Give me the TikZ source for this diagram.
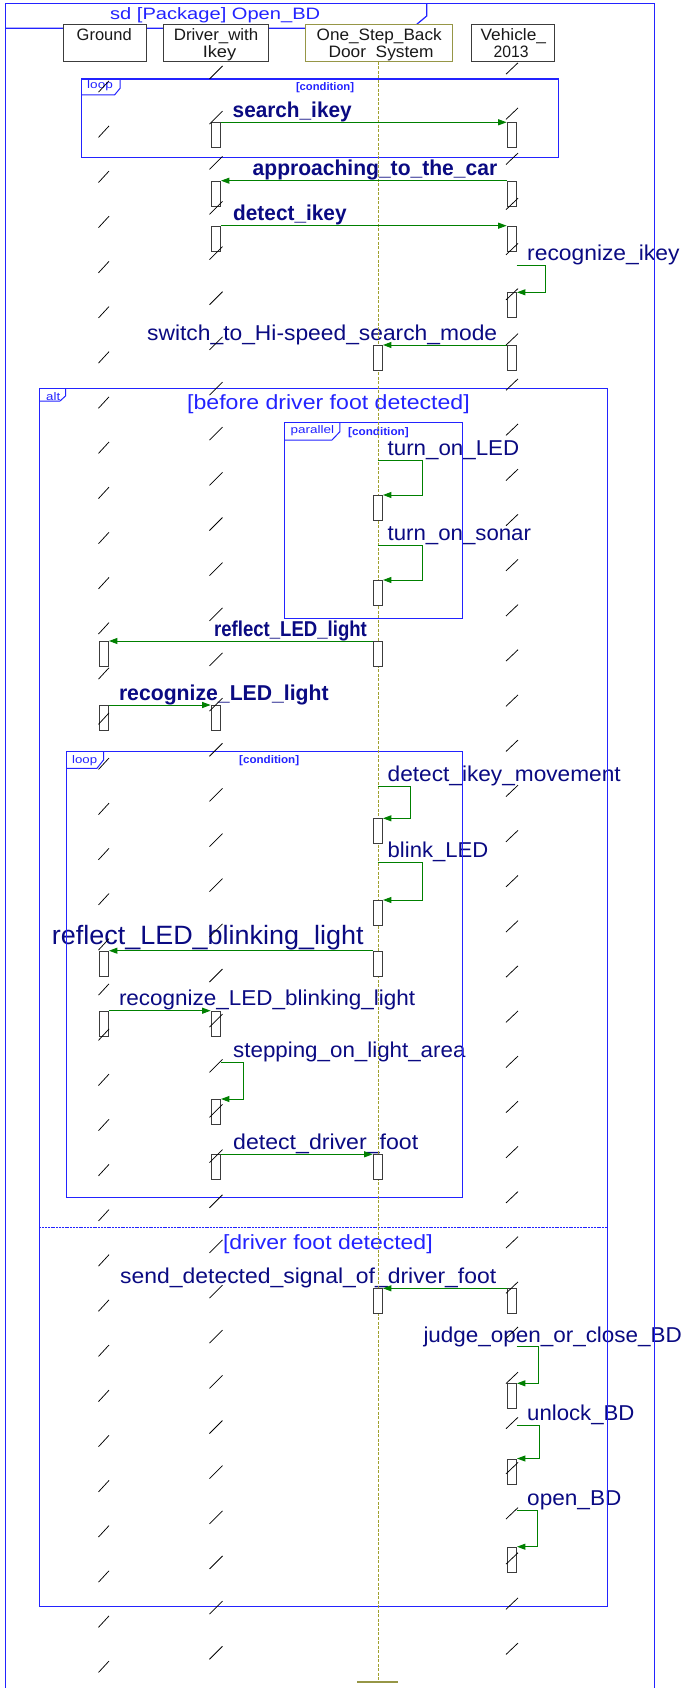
\documentclass[tikz,border=0pt]{standalone}
\usepackage{fontspec}
\setmainfont{Liberation Sans}
\usepackage{graphicx}
\usetikzlibrary{arrows.meta}
\definecolor{lblnavy}{RGB}{10,10,130}
\definecolor{frameblue}{RGB}{35,35,255}
\definecolor{msggreen}{RGB}{0,128,0}
\definecolor{lifeolive}{RGB}{160,160,45}
\definecolor{hdrolive}{RGB}{150,150,70}
\definecolor{boxgray}{RGB}{60,60,60}
\definecolor{hdrtext}{RGB}{25,25,25}
\newlength\fitlblw
\newcommand\fitlbl[3]{\begingroup\fontsize{#1}{#1}\selectfont\setbox0=\hbox{#3}\fitlblw=\wd0\relax\pgfmathsetmacro\fitlblsx{#2/\fitlblw}\scalebox{\fitlblsx}[1]{\box0}\endgroup}
\tikzset{
  lbl/.style={inner sep=0pt, anchor=base west, text=lblnavy},
  grd/.style={inner sep=0pt, anchor=base west, text=frameblue},
  hdrtxt/.style={inner sep=0pt, anchor=base, text=hdrtext},
  frm/.style={draw=frameblue, line width=1.2pt},
  tabline/.style={draw=frameblue, line width=1pt},
  hdrbox/.style={draw=boxgray, fill=white, line width=0.9pt, inner sep=0pt, anchor=north west, minimum height=36.7pt},
  actbox/.style={draw=boxgray, fill=white, line width=0.9pt, minimum width=9.4pt, minimum height=25pt, inner sep=0pt, anchor=north},
  msg/.style={draw=msggreen, line width=1pt, -{Triangle[length=8.5pt,width=6pt]}},
  tick/.style={black, line width=0.75pt},
  life/.style={draw=lifeolive, line width=0.9pt, dash pattern=on 3pt off 1.5pt},
}
\begin{document}
\begin{tikzpicture}[x=1pt,y=-1pt]
\useasboundingbox[fill=white] (0,0) rectangle (685,1688);

% ---------- labels (under the lines) ----------
\node[lbl] (t1) at (232.5,117.5) {\fitlbl{21.5}{119}{\bfseries search\_ikey}};
\node[lbl] (t2) at (252.5,175.5) {\fitlbl{21.5}{244.5}{\bfseries approaching\_to\_the\_car}};
\node[lbl] (t3) at (233,220.5) {\fitlbl{21.5}{113.4}{\bfseries detect\_ikey}};
\node[lbl] (t4) at (527,261) {\fitlbl{21.5}{152.3}{recognize\_ikey}};
\node[lbl] (t5) at (147,340) {\fitlbl{21.5}{350}{switch\_to\_Hi-speed\_search\_mode}};
\node[lbl] (t6) at (387.5,455.5) {\fitlbl{21.5}{131.5}{turn\_on\_LED}};
\node[lbl] (t7) at (387.5,540) {\fitlbl{21.5}{143.3}{turn\_on\_sonar}};
\node[lbl] (t8) at (214,636) {\fitlbl{21.5}{152.7}{\bfseries reflect\_LED\_light}};
\node[lbl] (t9) at (118.8,700) {\fitlbl{21.5}{209.7}{\bfseries recognize\_LED\_light}};
\node[lbl] (t10) at (387.5,781.5) {\fitlbl{21.5}{233}{detect\_ikey\_movement}};
\node[lbl] (t11) at (387.5,857.5) {\fitlbl{21.5}{100.5}{blink\_LED}};
\node[lbl] (t12) at (51.7,944) {\fitlbl{26.5}{311.7}{reflect\_LED\_blinking\_light}};
\node[lbl] (t13) at (118.8,1005.5) {\fitlbl{21.5}{296.2}{recognize\_LED\_blinking\_light}};
\node[lbl] (t14) at (233,1057) {\fitlbl{21.5}{232.3}{stepping\_on\_light\_area}};
\node[lbl] (t15) at (233,1149) {\fitlbl{21.5}{185}{detect\_driver\_foot}};
\node[lbl] (t16) at (120,1283) {\fitlbl{21.5}{376}{send\_detected\_signal\_of\_driver\_foot}};
\node[lbl] (t17) at (423.3,1342) {\fitlbl{21.5}{258.4}{judge\_open\_or\_close\_BD}};
\node[lbl] (t18) at (527,1420) {\fitlbl{21.5}{107.3}{unlock\_BD}};
\node[lbl] (t19) at (527,1505.5) {\fitlbl{21.5}{94.2}{open\_BD}};

% guards and frame texts
\node[grd] (title) at (110,19.5) {\fitlbl{16.5}{210}{sd [Package] Open\_BD}};
\node[grd] (g1) at (187,409) {\fitlbl{20.5}{282.6}{[before driver foot detected]}};
\node[grd] (g2) at (222.8,1249) {\fitlbl{20.5}{209.7}{[driver foot detected]}};
\node[grd] (lp1) at (87,89) {\fitlbl{11}{25.7}{loop}};
\node[grd] (cd1) at (295.8,90.5) {\fitlbl{11}{58}{\bfseries [condition]}};
\node[grd] (alt) at (46,400) {\fitlbl{11}{14}{alt}};
\node[grd] (par) at (290.5,433.5) {\fitlbl{11}{43.5}{parallel}};
\node[grd] (cd2) at (348,435) {\fitlbl{11}{60.5}{\bfseries [condition]}};
\node[grd] (lp2) at (72,763) {\fitlbl{11}{25}{loop}};
\node[grd] (cd3) at (239,763.5) {\fitlbl{11}{60}{\bfseries [condition]}};

% ---------- frames ----------
\draw[frm] (5.2,1688) -- (5.2,3.3) -- (654.5,3.3) -- (654.5,1688);
\draw[frm] (5.2,28.3) -- (412,28.3) -- (426.7,16) -- (426.7,3.3);
% top loop
\draw[frm] (81.7,79) rectangle (558.3,157.3);
\draw[tabline] (81.7,95) -- (114.5,95) -- (120.1,88.3) -- (120.1,79);
% alt
\draw[frm] (39.3,388.3) rectangle (607.2,1606.7);
\draw[tabline] (39.3,401) -- (60,401) -- (65.5,396) -- (65.5,388.3);
\draw[frm, line width=1.6pt, dash pattern=on 2pt off 0.8pt] (39.3,1227.3) -- (607.2,1227.3);
% parallel
\draw[frm] (284.8,422.7) rectangle (462.2,618.3);
\draw[tabline] (284.8,440) -- (332,440) -- (339.9,431.7) -- (339.9,422.7);
% inner loop
\draw[frm] (66.4,751.7) rectangle (462.2,1197.7);
\draw[tabline] (66.4,768.3) -- (97,768.3) -- (103.5,760) -- (103.5,751.7);

% ---------- header boxes ----------
\node[hdrbox, minimum width=83.3pt] (hG) at (62.7,24.3) {};
\node[hdrbox, minimum width=105pt] (hD) at (163.3,24.3) {};
\node[hdrbox, minimum width=146.7pt, draw=hdrolive] (hS) at (305,24.3) {};
\node[hdrbox, minimum width=83pt] (hV) at (470.5,24.3) {};
\node[hdrtxt] (hGt) at (104.2,40.7) {\fitlbl{16.5}{55}{Ground}};
\node[hdrtxt] (hDt1) at (216.1,40.7) {\fitlbl{16.5}{84.5}{Driver\_with}};
\node[hdrtxt] (hDt2) at (219.5,57.5) {\fitlbl{16.5}{33.5}{Ikey}};
\node[hdrtxt] (hSt1) at (379.2,40.7) {\fitlbl{16.5}{125}{One\_Step\_Back}};
\node[hdrtxt] (hSt2) at (381,57.5) {\fitlbl{16.5}{105}{Door\phantom{\_}System}};
\node[hdrtxt] (hVt1) at (513.3,40.7) {\fitlbl{16.5}{65.4}{Vehicle\_}};
\node[hdrtxt] (hVt2) at (511.2,57.5) {\fitlbl{16.5}{35}{2013}};

% ---------- lifeline of the system ----------
\coordinate (lend) at (377.8,1682.3);
\draw[life] (hS.south) -- (hS.south |- lend);
\draw[draw=hdrolive, line width=1.8pt] ([xshift=-20.5pt]lend) -- ([xshift=20.5pt]lend);

% ---------- activation boxes ----------
% driver
\node[actbox] (d1) at (215.8,122.3) {};
\node[actbox] (d2) at (215.8,180.7) {};
\node[actbox] (d3) at (215.8,225.7) {};
\node[actbox] (d4) at (215.8,705) {};
\node[actbox] (d5) at (215.8,1010.7) {};
\node[actbox] (d6) at (215.8,1099) {};
\node[actbox] (d7) at (215.8,1154.3) {};
% vehicle
\node[actbox] (v1) at (511.8,122.3) {};
\node[actbox] (v2) at (511.8,180.7) {};
\node[actbox] (v3) at (511.8,225.7) {};
\node[actbox] (v4) at (511.8,292.3) {};
\node[actbox] (v5) at (511.8,345) {};
\node[actbox] (v6) at (511.8,1288.3) {};
\node[actbox] (v7) at (511.8,1383.3) {};
\node[actbox] (v8) at (511.8,1458.5) {};
\node[actbox] (v9) at (511.8,1546.7) {};
% system
\node[actbox] (s1) at (377.8,345) {};
\node[actbox] (s2) at (377.8,495) {};
\node[actbox] (s3) at (377.8,580) {};
\node[actbox] (s4) at (377.8,641) {};
\node[actbox] (s5) at (377.8,818.3) {};
\node[actbox] (s6) at (377.8,900) {};
\node[actbox] (s7) at (377.8,950.7) {};
\node[actbox] (s8) at (377.8,1154.3) {};
\node[actbox] (s9) at (377.8,1288.3) {};
% ground
\node[actbox] (g4) at (103.8,641) {};
\node[actbox] (g5) at (103.8,705) {};
\node[actbox] (g7) at (103.8,950.7) {};
\node[actbox] (g8) at (103.8,1010.7) {};

% ---------- messages ----------
\draw[msg] (d1.north east) -- (v1.north west);
\draw[msg] (v2.north west) -- (d2.north east);
\draw[msg] (d3.north east) -- (v3.north west);
\coordinate (c4) at (516.5,266);
\draw[msg] (c4) -- ++(28.7,0) |- (v4.north east);
\draw[msg] (v5.north west) -- (s1.north east);
\coordinate (c6) at (377.8,460.7);
\draw[msg] (c6) -- ++(44.2,0) |- (s2.north east);
\coordinate (c7) at (377.8,545);
\draw[msg] (c7) -- ++(44.2,0) |- (s3.north east);
\draw[msg] (s4.north west) -- (g4.north east);
\draw[msg] (g5.north east) -- (d4.north west);
\coordinate (c10) at (377.8,786.7);
\draw[msg] (c10) -- ++(32.4,0) |- (s5.north east);
\coordinate (c11) at (377.8,862.7);
\draw[msg] (c11) -- ++(44.2,0) |- (s6.north east);
\draw[msg] (s7.north west) -- (g7.north east);
\draw[msg] (g8.north east) -- (d5.north west);
\coordinate (c14) at (220.5,1062.3);
\draw[msg] (c14) -- ++(22.8,0) |- (d6.north east);
\draw[msg] (d7.north east) -- (s8.north west);
\draw[msg] (v6.north west) -- (s9.north east);
\coordinate (c17) at (516.5,1346.7);
\draw[msg] (c17) -- ++(21.7,0) |- (v7.north east);
\coordinate (c18) at (516.5,1425.3);
\draw[msg] (c18) -- ++(23,0) |- (v8.north east);
\coordinate (c19) at (516.5,1510.7);
\draw[msg] (c19) -- ++(20.9,0) |- (v9.north east);

% ---------- lifeline ticks ----------
\foreach \k in {0,...,35}{
  \draw[tick] (98.5,86.5+45.15*\k+5.7) -- (109,86.5+45.15*\k-5.7);
  \draw[tick] (209.5,72.5+45.15*\k+6.5) -- (222.5,72.5+45.15*\k-6.5);
  \draw[tick] (506,68.5+45.15*\k+5.7) -- (518,68.5+45.15*\k-5.7);
}
\end{tikzpicture}
\end{document}
